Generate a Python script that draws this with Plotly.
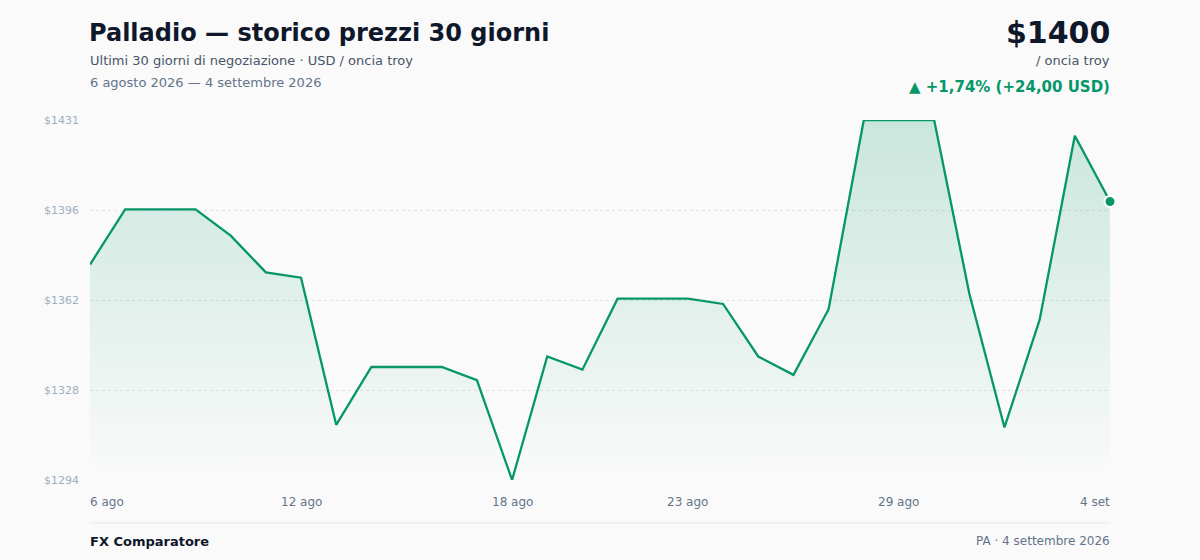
import pandas as pd
import plotly.graph_objects as go

# 30 giorni di prezzi del palladio (USD / oncia troy)
dates = pd.date_range("2026-08-06", "2026-09-04", freq="D")
prices = [1376, 1397, 1397, 1397, 1387, 1373, 1371, 1315, 1337, 1337,
          1337, 1332, 1294, 1341, 1336, 1363, 1363, 1363, 1361, 1341,
          1334, 1359, 1431, 1431, 1431, 1365, 1314, 1355, 1425, 1400]

y_ticks = [1294, 1328.25, 1362.5, 1396.75, 1431]
y_tick_text = ["$1294", "$1328", "$1362", "$1396", "$1431"]

x_tick_idx = [0, 6, 12, 17, 23, 29]
x_tick_text = ["6 ago", "12 ago", "18 ago", "23 ago", "29 ago", "4 set"]

GREEN = "#059669"
BG = "#fafafa"
FONT = "DejaVu Sans"
W, H = 1200, 560
ML, MR, MT, MB = 90, 90, 120, 80


def px_y(y):
    return (H - MB - y) / float(H - MT - MB)


def px_x(x):
    return (x - ML) / float(W - ML - MR)


fig = go.Figure()

fig.add_trace(go.Scatter(
    x=dates, y=prices, mode="lines",
    line=dict(color=GREEN, width=2.3),
    fill="tozeroy",
    fillgradient=dict(type="vertical", start=min(prices), stop=max(prices),
                      colorscale=[[0, "rgba(5,150,105,0.0)"],
                                  [1, "rgba(5,150,105,0.2)"]]),
    hoverinfo="x+y", showlegend=False,
))

# last point marker
fig.add_trace(go.Scatter(
    x=[dates[-1]], y=[prices[-1]], mode="markers",
    marker=dict(color=GREEN, size=11, line=dict(color="white", width=2)),
    cliponaxis=False, showlegend=False, hoverinfo="skip",
))

fig.update_layout(
    width=W, height=H,
    margin=dict(l=ML, r=MR, t=MT, b=MB),
    paper_bgcolor=BG, plot_bgcolor=BG,
    font=dict(family=FONT, color="#64748b"),
)

fig.update_xaxes(
    range=[dates[0], dates[-1]], showgrid=False, showticklabels=False,
    zeroline=False, showline=False, fixedrange=True,
)
fig.update_yaxes(
    range=[min(prices), max(prices)],
    tickvals=y_ticks, ticktext=y_tick_text,
    tickfont=dict(size=11, color="#a0aec0"),
    ticks="", ticklabelstandoff=10,
    showgrid=True, gridcolor="#dde3ea", gridwidth=1, griddash="3px,3px",
    zeroline=False, showline=False, fixedrange=True,
)

# x tick labels (first left aligned, last right aligned)
for i, (idx, txt) in enumerate(zip(x_tick_idx, x_tick_text)):
    anchor, shift = "center", 0
    if i == 0:
        anchor, shift = "left", -2
    elif i == len(x_tick_idx) - 1:
        anchor, shift = "right", 2
    fig.add_annotation(x=dates[idx], y=px_y(502), xref="x", yref="paper", text=txt,
                       xanchor=anchor, yanchor="middle", xshift=shift, showarrow=False,
                       font=dict(size=12, color="#64748b"))

header = [
    dict(x=87, y=33, text="<b>Palladio — storico prezzi 30 giorni</b>", xanchor="left",
         font=dict(size=24, color="#0f172a")),
    dict(x=88, y=61, text="Ultimi 30 giorni di negoziazione · USD / oncia troy", xanchor="left",
         font=dict(size=13, color="#475569")),
    dict(x=88, y=83, text="6 agosto 2026 — 4 settembre 2026", xanchor="left",
         font=dict(size=13, color="#64748b")),
    dict(x=1112, y=32, text="<b>$1400</b>", xanchor="right",
         font=dict(size=30, color="#0f172a")),
    dict(x=1112, y=61, text="/ oncia troy", xanchor="right",
         font=dict(size=13, color="#475569")),
    dict(x=1112, y=87, text="<b>▲ +1,74% (+24,00 USD)</b>", xanchor="right",
         font=dict(size=15, color=GREEN)),
    dict(x=88, y=541, text="<b>FX Comparatore</b>", xanchor="left",
         font=dict(size=13, color="#0f172a")),
    dict(x=1112, y=541, text="PA · 4 settembre 2026", xanchor="right",
         font=dict(size=12, color="#64748b")),
]
for h in header:
    fig.add_annotation(x=px_x(h["x"]), y=px_y(h["y"]), xref="paper", yref="paper",
                       text=h["text"], xanchor=h["xanchor"], yanchor="middle",
                       showarrow=False, font=h["font"])

# footer separator
fig.add_shape(type="line", xref="paper", yref="paper",
              x0=0, x1=1, y0=px_y(523), y1=px_y(523),
              line=dict(color="#e5e7eb", width=1))

fig.write_html("out.html",
               config={"displayModeBar": False},
               post_script="document.body.style.margin='0';"
                           "document.body.style.background='%s';" % BG)
